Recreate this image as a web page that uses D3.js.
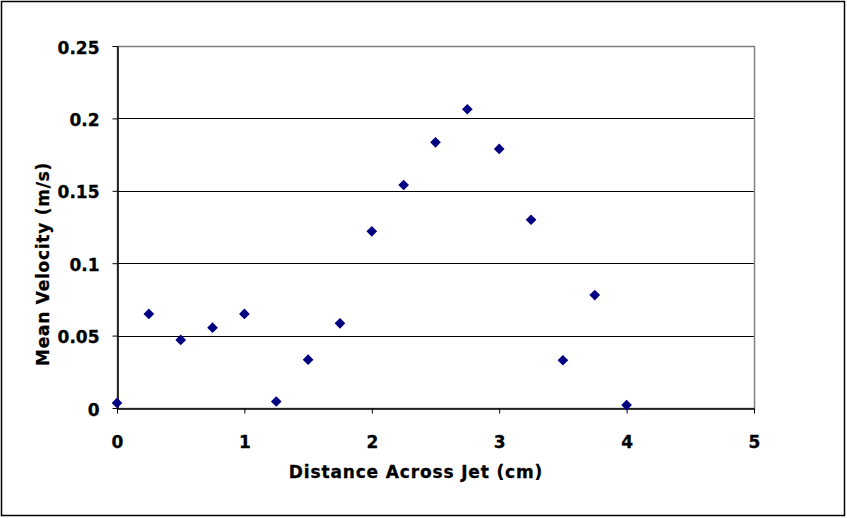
<!DOCTYPE html>
<html>
<head>
<meta charset="utf-8">
<script src="https://cdn.jsdelivr.net/npm/d3@7"></script>
<style>
  body { margin: 0; background: #fff; }
  text { font-family: "DejaVu Sans", sans-serif; font-weight: bold; fill: #000; }
</style>
</head>
<body>
<div id="chart"></div>
<script>
// distancia a traves del chorro (cm) y velocidad media (m/s)
const distancias = [0, 0.25, 0.5, 0.75, 1, 1.25, 1.5, 1.75, 2, 2.25, 2.5, 2.75, 3, 3.25, 3.5, 3.75, 4];
const velocidades = [0.0035, 0.065, 0.047, 0.0555, 0.065, 0.0045, 0.0334, 0.0585, 0.122, 0.154, 0.1835, 0.2063, 0.1789, 0.130, 0.033, 0.078, 0.002];
const ticksX = [0, 1, 2, 3, 4, 5];
const ticksY = [0, 0.05, 0.1, 0.15, 0.2, 0.25];
const tituloX = "Distance Across Jet (cm)";
const tituloY = "Mean Velocity (m/s)";

const ancho = 847, alto = 518;
const izq = 117, der = 754, arriba = 46, abajo = 408;

const $svg = d3.select("#chart")
    .append("svg")
    .attr("width", ancho)
    .attr("height", alto);

// marco exterior
$svg.append("rect")
    .attr("x", 1.5).attr("y", 1.5)
    .attr("width", 843).attr("height", 514)
    .attr("fill", "#fff")
    .attr("stroke", "#000")
    .attr("stroke-width", 1.5);

const x = d3.scaleLinear().domain([0, 5]).range([izq, der]);
const y = d3.scaleLinear().domain([0, 0.25]).range([abajo, arriba]);

// lineas de la cuadricula
$svg.append("g")
    .selectAll("line")
    .data(ticksY.filter(t => t > 0 && t < 0.25))
    .join("line")
    .attr("x1", izq).attr("x2", der)
    .attr("y1", d => Math.round(y(d)) + 0.5)
    .attr("y2", d => Math.round(y(d)) + 0.5)
    .attr("stroke", "#000");

// borde del area de trazado
$svg.append("rect")
    .attr("x", izq + 0.5).attr("y", arriba + 0.5)
    .attr("width", der - izq).attr("height", abajo - arriba)
    .attr("fill", "none")
    .attr("stroke", "#808080")
    .attr("stroke-width", 1.5);

const estiloTexto = sel => sel
    .attr("font-size", 17)
    .attr("font-family", "DejaVu Sans")
    .attr("font-weight", "bold")
    .attr("stroke", "#000")
    .attr("stroke-width", 0.3);

// ejes
const ejeX = $svg.append("g")
    .attr("transform", `translate(0,${abajo + 0.5})`)
    .call(d3.axisBottom(x).tickValues(ticksX).tickFormat(d3.format("d")).tickSizeInner(5).tickSizeOuter(0).tickPadding(22));
ejeX.select(".domain").attr("stroke", "#000").attr("stroke-width", 1.5);
ejeX.selectAll("text").call(estiloTexto);

const ejeY = $svg.append("g")
    .attr("transform", `translate(${izq + 0.5},0)`)
    .call(d3.axisLeft(y).tickValues(ticksY).tickFormat(d => d === 0 ? "0" : String(d)).tickSizeInner(5).tickSizeOuter(0).tickPadding(13));
ejeY.select(".domain").attr("stroke", "#000").attr("stroke-width", 1.5);
ejeY.selectAll("text").call(estiloTexto).attr("dy", "0.42em");

// puntos
const diamante = d3.symbol().type(d3.symbolSquare).size(57);
$svg.append("g")
    .selectAll("path")
    .data(distancias.map((d, i) => [d, velocidades[i]]))
    .join("path")
    .attr("d", diamante)
    .attr("transform", d => `translate(${x(d[0])},${y(d[1])}) rotate(45)`)
    .attr("fill", "#000080");

// titulos
$svg.append("text")
    .attr("x", 416).attr("y", 478)
    .attr("text-anchor", "middle")
    .call(estiloTexto)
    .attr("letter-spacing", 0.85)
    .text(tituloX);

$svg.append("text")
    .attr("transform", "translate(49,264) rotate(-90)")
    .attr("text-anchor", "middle")
    .call(estiloTexto)
    .attr("letter-spacing", 0.75)
    .text(tituloY);
</script>
</body>
</html>
